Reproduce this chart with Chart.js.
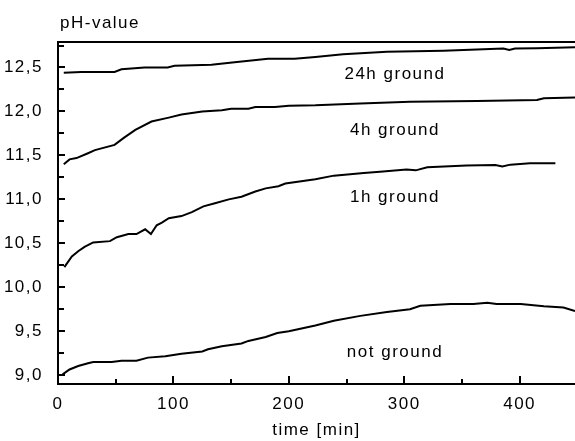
<!DOCTYPE html>
<html>
<head>
<meta charset="utf-8">
<script src="https://cdn.jsdelivr.net/npm/chart.js@4.4.1/dist/chart.umd.min.js"></script>
<style>
    body { margin: 0; background: #fff; }
    #wrap { width: 575px; height: 441px; position: relative; }
</style>
</head>
<body>
<div id="wrap"><canvas id="myChart"></canvas></div>
<script>
// time [min] and pH values
const t24h = [5, 20, 49, 55, 75, 95, 101, 133, 153, 182, 205, 223, 247, 285, 334, 386, 391, 396, 415, 448];
const ph24h = [12.44, 12.45, 12.45, 12.48, 12.50, 12.50, 12.52, 12.53, 12.56, 12.60, 12.60, 12.62, 12.65, 12.68, 12.69, 12.715, 12.70, 12.715, 12.72, 12.73];

const t4h = [5, 10, 16, 26, 32, 49, 57, 67, 81, 96, 107, 125, 142, 150, 165, 171, 188, 200, 223, 262, 305, 363, 415, 421, 448];
const ph4h = [11.40, 11.455, 11.47, 11.525, 11.56, 11.62, 11.70, 11.79, 11.885, 11.93, 11.965, 12.00, 12.015, 12.03, 12.03, 12.05, 12.05, 12.065, 12.07, 12.09, 12.11, 12.12, 12.13, 12.15, 12.16];

const t1h = [5.5, 12, 17.5, 23, 30.5, 45, 51, 61, 68, 75.5, 80.5, 85.5, 90, 96, 107, 116, 126, 136, 148, 159, 171, 180, 191, 197, 223, 239, 265, 279, 302, 310, 320, 354, 379, 385, 392, 409, 431];
const ph1h = [10.23, 10.35, 10.41, 10.46, 10.51, 10.525, 10.57, 10.605, 10.605, 10.66, 10.605, 10.705, 10.735, 10.785, 10.81, 10.855, 10.92, 10.955, 11.0, 11.03, 11.09, 11.125, 11.15, 11.18, 11.23, 11.27, 11.30, 11.315, 11.34, 11.33, 11.365, 11.385, 11.39, 11.375, 11.395, 11.41, 11.41];

const tNot = [4, 10, 17.5, 26, 30.5, 46.5, 55, 68, 78, 93, 107, 125, 130, 142, 159, 165, 180, 190, 200, 223, 239, 262, 285, 305, 314, 340, 360, 372, 380, 401, 421, 438, 448];
const phNot = [9.01, 9.065, 9.105, 9.135, 9.15, 9.15, 9.165, 9.165, 9.20, 9.215, 9.245, 9.27, 9.295, 9.33, 9.36, 9.39, 9.435, 9.48, 9.50, 9.565, 9.62, 9.675, 9.72, 9.75, 9.79, 9.81, 9.81, 9.825, 9.81, 9.81, 9.785, 9.77, 9.73];

// tick positions (labelled ones get a number, the others stay blank)
const xTicks = [0, 50, 100, 150, 200, 250, 300, 350, 400];
const yTicks = [9.0, 9.25, 9.5, 9.75, 10.0, 10.25, 10.5, 10.75, 11.0, 11.25, 11.5, 11.75, 12.0, 12.25, 12.5, 12.75];

// curve names and where they stand (time, pH)
const curveNames = ['24h ground', '4h ground', '1h ground', 'not ground'];
const nameT = [292, 292, 292, 292];
const namePH = [12.42, 11.78, 11.02, 9.265];

const fontFam = '"Liberation Sans", Arial, sans-serif';
const fontSize = 17;

function toPoints(xs, ys) {
    return xs.map(function(x, i) { return { x: x, y: ys[i] }; });
}

function lineSet(label, xs, ys) {
    return {
        label: label,
        data: toPoints(xs, ys),
        borderColor: '#000',
        borderWidth: 2,
        pointRadius: 0,
        tension: 0,
        fill: false
    };
}

// true when v is a whole multiple of step
function onStep(v, step) {
    return Math.abs(v / step - Math.round(v / step)) < 1e-6;
}

const extras = {
    id: 'extras',
    beforeInit: function(chart) {
        chart.ctx.letterSpacing = '1.5px';
    },
    beforeDraw: function(chart) {
        chart.ctx.letterSpacing = '1.5px';
    },
    afterDraw: function(chart) {
        const ctx = chart.ctx;
        const a = chart.chartArea;
        const xs = chart.scales.x;
        const ys = chart.scales.y;
        ctx.save();
        ctx.strokeStyle = '#000';
        ctx.lineWidth = 2;
        // top frame line
        ctx.beginPath();
        ctx.moveTo(a.left, a.top);
        ctx.lineTo(a.right + 2, a.top);
        ctx.stroke();
        // inward ticks
        ctx.beginPath();
        xs.ticks.forEach(function(tk) {
            const px = Math.round(xs.getPixelForValue(tk.value));
            ctx.moveTo(px, a.bottom);
            ctx.lineTo(px, a.bottom - (onStep(tk.value, 100) ? 8 : 5));
        });
        ys.ticks.forEach(function(tk) {
            const py = Math.round(ys.getPixelForValue(tk.value));
            ctx.moveTo(a.left, py);
            ctx.lineTo(a.left + (onStep(tk.value, 0.5) ? 7 : 6), py);
        });
        ctx.stroke();
        // texts
        ctx.fillStyle = '#000';
        ctx.letterSpacing = '1.5px';
        ctx.font = fontSize + 'px ' + fontFam;
        ctx.textAlign = 'left';
        ctx.textBaseline = 'alphabetic';
        ctx.fillText('pH-value', 60, 28);
        ctx.textAlign = 'center';
        ctx.textBaseline = 'middle';
        curveNames.forEach(function(n, i) {
            ctx.fillText(n, xs.getPixelForValue(nameT[i]), ys.getPixelForValue(namePH[i]));
        });
        ctx.restore();
    }
};

const config = {
    type: 'line',
    data: {
        datasets: [
            lineSet('24h ground', t24h, ph24h),
            lineSet('4h ground', t4h, ph4h),
            lineSet('1h ground', t1h, ph1h),
            lineSet('not ground', tNot, phNot)
        ]
    },
    options: {
        responsive: true,
        maintainAspectRatio: false,
        animation: false,
        layout: { padding: { top: 42, right: 0, left: 0, bottom: 0 } },
        plugins: {
            legend: { display: false },
            tooltip: { enabled: false }
        },
        scales: {
            x: {
                type: 'linear',
                min: 0,
                max: 448,
                grid: { display: false },
                border: { display: true, color: '#000', width: 2 },
                afterBuildTicks: function(s) {
                    s.ticks = xTicks.map(function(v) { return { value: v }; });
                },
                ticks: {
                    autoSkip: false,
                    maxRotation: 0,
                    padding: 2,
                    color: '#000',
                    font: { family: fontFam, size: fontSize },
                    callback: function(v) { return onStep(v, 100) ? String(Math.round(v)) : ''; }
                },
                title: {
                    display: true,
                    text: 'time [min]',
                    color: '#000',
                    font: { family: fontFam, size: fontSize },
                    padding: { top: 0, bottom: 0 }
                },
                afterFit: function(s) { s.height = 57; }
            },
            y: {
                type: 'linear',
                min: 8.9,
                max: 12.79,
                grid: { display: false },
                border: { display: true, color: '#000', width: 2 },
                afterBuildTicks: function(s) {
                    s.ticks = yTicks.map(function(v) { return { value: v }; });
                },
                ticks: {
                    autoSkip: false,
                    padding: 7,
                    color: '#000',
                    font: { family: fontFam, size: fontSize },
                    callback: function(v) {
                        return onStep(v, 0.5) ? v.toFixed(1).replace('.', ',') : '';
                    }
                },
                afterFit: function(s) { s.width = 58; }
            }
        }
    },
    plugins: [extras]
};

const myChart = new Chart(document.getElementById('myChart'), config);
</script>
</body>
</html>
